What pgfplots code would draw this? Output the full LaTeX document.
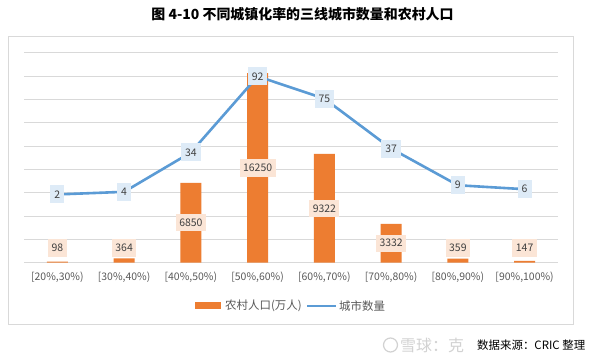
\documentclass[border=0pt]{standalone}
\usepackage{pgfplots}
\pgfplotsset{compat=1.18}
\usepackage{pgfplotstable}
\usepackage{fontspec}
\setmainfont{Noto Sans CJK SC}
\definecolor{barorange}{HTML}{ED7D31}
\definecolor{lineblue}{HTML}{5B9BD5}
\definecolor{peach}{HTML}{FBE5D6}
\definecolor{lblue}{HTML}{DEEBF7}
\definecolor{gridgray}{HTML}{D9D9D9}
\definecolor{txtgray}{HTML}{595959}
\definecolor{lbltxt}{HTML}{404040}
\pgfplotstableread{
x v
0 98
1 364
2 6850
3 16250
4 9322
5 3332
6 359
7 147
}\pop
\pgfplotstableread{
x c
0 2
1 4
2 34
3 92
4 75
5 37
6 9
7 6
}\city
\begin{document}
\begin{tikzpicture}
\path[use as bounding box] (0,0) rectangle (595bp,363bp);
\fill[white] (0,0) rectangle (595bp,363bp);
\draw[gridgray, line width=1bp] (8bp,38.5bp) rectangle (573.3bp,326.5bp);
\node[font=\fontsize{14}{16}\selectfont\bfseries] at (302.5bp,349bp) {图 4-10 不同城镇化率的三线城市数量和农村人口};
\pgfplotsset{
  common/.style={
    scale only axis, width=534bp, height=210bp,
    at={(24bp,100.3bp)}, anchor=south west,
    xmin=-0.5, xmax=7.5,
    major tick length=0pt,
    axis line style={draw=none},
    clip=false, scaled y ticks=false,
  }
}
\begin{axis}[common,
  ymin=0, ymax=18000,
  ytick={0,2000,...,18000}, yticklabels={},
  ymajorgrids, grid style={gridgray, line width=0.8bp},
  xtick={0,...,7},
  xticklabels={{[20\%,30\%)},{[30\%,40\%)},{[40\%,50\%)},{[50\%,60\%)},{[60\%,70\%)},{[70\%,80\%)},{[80\%,90\%)},{[90\%,100\%)}},
  xticklabel style={font=\fontsize{10.5}{12}\selectfont, text=txtgray, anchor=center, yshift=-15bp},
]
\addplot[ybar, bar width=21bp, fill=barorange, draw=none] table[x=x,y=v]{\pop};
\addplot[draw=none, mark=none, point meta=explicit symbolic,
  nodes near coords, nodes near coords align=center,
  every node near coord/.style={fill=peach, text=lbltxt, font=\fontsize{10.5}{12}\selectfont, inner xsep=3.5bp, inner ysep=0pt, minimum height=17.5bp, anchor=center}]
  table[x=x, y expr={max(\thisrow{v}/2,1250)}, meta=v]{\pop};
\end{axis}
\begin{axis}[common,
  ymin=-50, ymax=110,
  ytick=\empty, xtick=\empty,
]
\addplot[line width=2.6bp, lineblue, mark=none, point meta=explicit symbolic,
  nodes near coords, nodes near coords align=center,
  every node near coord/.style={fill=lblue, text=lbltxt, font=\fontsize{10.5}{12}\selectfont, inner xsep=4bp, inner ysep=0pt, minimum height=18bp, anchor=center}]
  table[x=x, y=c, meta=c]{\city};
\end{axis}
% legend
\fill[barorange] (195bp,53.8bp) rectangle (220.7bp,60.8bp);
\node[anchor=west, inner sep=0pt, text=txtgray, font=\fontsize{11.5}{13}\selectfont] at (225bp,57.3bp) {农村人口(万人)};
\draw[lineblue, line width=2.2bp] (307bp,57.3bp) -- (336bp,57.3bp);
\node[anchor=west, inner sep=0pt, text=txtgray, font=\fontsize{11.5}{13}\selectfont] at (339bp,57.3bp) {城市数量};
% source / watermark
\draw[gray!35, line width=1.2bp] (390.5bp,18bp) circle (7bp);
\node[anchor=west, inner sep=0pt, text=gray!35, font=\fontsize{16}{18}\selectfont] at (400bp,18bp) {雪球：克};
\node[anchor=west, inner sep=0pt, text=black, font=\fontsize{11.5}{13}\selectfont] at (477bp,18bp) {数据来源：CRIC 整理};
\end{tikzpicture}
\end{document}
